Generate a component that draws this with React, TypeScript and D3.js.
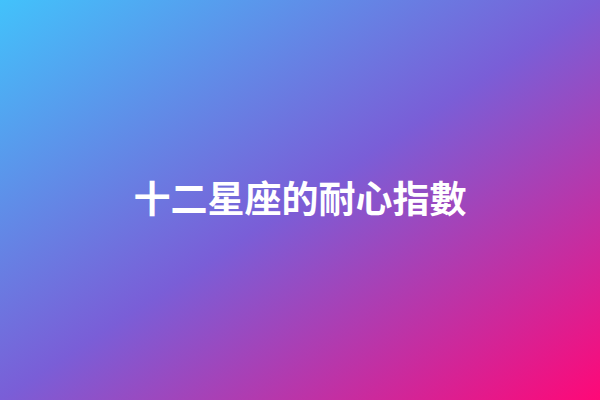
import React, { useEffect, useRef } from 'react';
import * as d3 from 'd3';

const title = '十二星座的耐心指數';
const stopOffsets = [0, 0.5, 1];
const stopColors = ['#42c2fb', '#7a5ed7', '#ff0877'];

export default function App() {
  const svgRef = useRef<SVGSVGElement>(null);

  useEffect(() => {
    if (!svgRef.current) return;
    const width = 600;
    const height = 400;

    const svg = d3.select(svgRef.current);
    svg.selectAll('*').remove();
    svg.attr('width', width).attr('height', height);

    const defs = svg.append('defs');
    const grad = defs.append('linearGradient')
      .attr('id', 'bg')
      .attr('x1', '0%')
      .attr('y1', '0%')
      .attr('x2', '100%')
      .attr('y2', '100%');

    grad.selectAll('stop')
      .data(stopOffsets)
      .enter()
      .append('stop')
      .attr('offset', d => d)
      .attr('stop-color', (_, i) => stopColors[i]);

    svg.append('rect')
      .attr('width', width)
      .attr('height', height)
      .attr('fill', 'url(#bg)');

    svg.append('text')
      .attr('x', width / 2)
      .attr('y', height / 2)
      .attr('dy', '0.35em')
      .attr('text-anchor', 'middle')
      .style('font-family', '"Noto Sans CJK TC", "Noto Sans CJK SC", sans-serif')
      .style('font-size', '37px')
      .style('font-weight', 'bold')
      .style('fill', '#ffffff')
      .text(title);
  }, []);

  return (
    <svg
      ref={svgRef}
      style={{ position: 'absolute', left: 0, top: 0, display: 'block' }}
    ></svg>
  );
}
